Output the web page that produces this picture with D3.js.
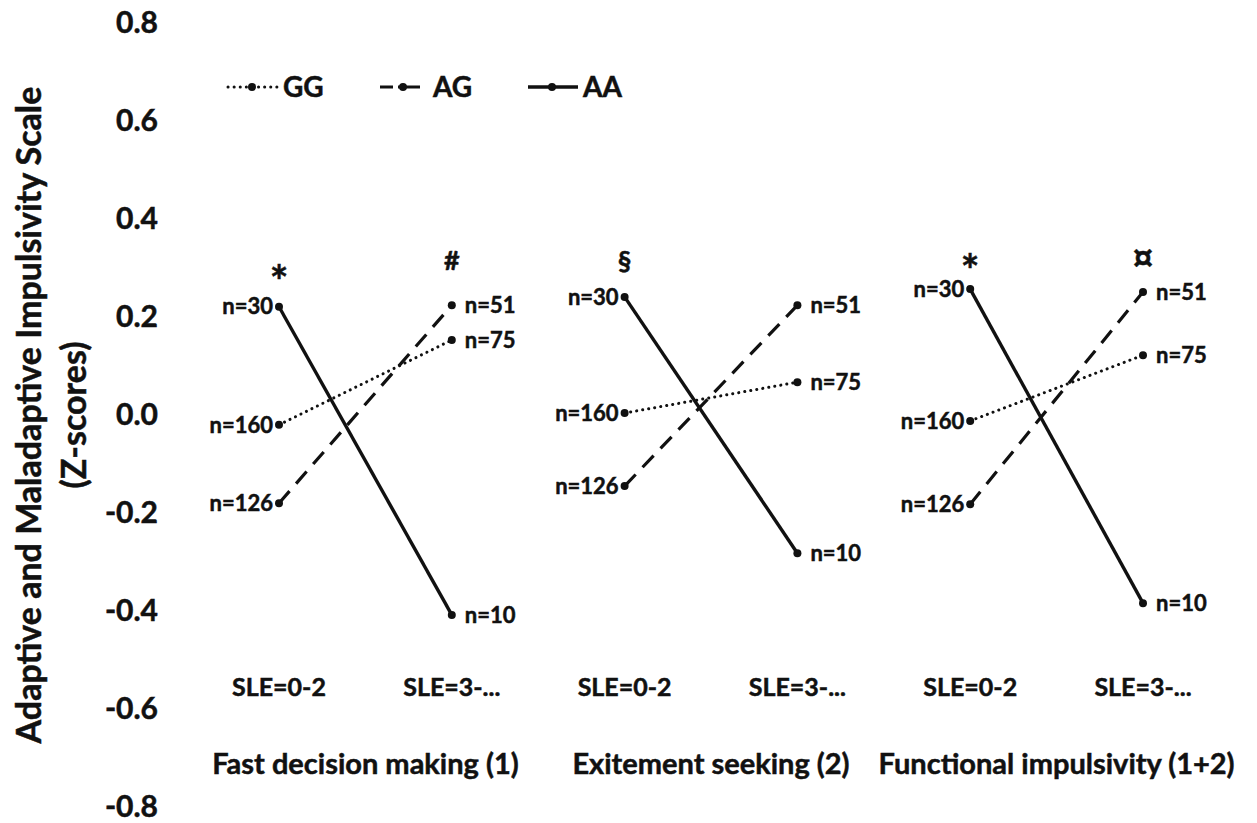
<!DOCTYPE html>
<html lang="en">
  <head>
    <meta charset="UTF-8" />
    <title>Impulsivity by SLE and genotype</title>
    <script src="https://d3js.org/d3.v7.min.js"></script>
    <style>
      body {
        margin: 0;
        background: #fff;
        font-family: Lato, "Open Sans", sans-serif;
      }
      text {
        font-weight: bold;
        fill: #111;
        stroke: #111;
        stroke-width: 0.5px;
      }
      .axis path,
      .axis line {
        display: none;
      }
    </style>
  </head>
  <body>
    <script>
      // data
      var panels = [
        "Fast decision making (1)",
        "Exitement seeking (2)",
        "Functional impulsivity (1+2)",
      ];
      var sleGroups = ["SLE=0-2", "SLE=3-..."];
      var genotypes = ["GG", "AG", "AA"];

      // [SLE=0-2, SLE=3-...] per panel
      var ggValues = [[-0.02, 0.153], [0.004, 0.067], [-0.012, 0.122]];
      var agValues = [[-0.18, 0.224], [-0.145, 0.224], [-0.182, 0.251]];
      var aaValues = [[0.221, -0.408], [0.241, -0.282], [0.257, -0.384]];

      var ggN = ["n=160", "n=75"];
      var agN = ["n=126", "n=51"];
      var aaN = ["n=30", "n=10"];

      var sigLabels = [["*", "#"], ["§", ""], ["*", "¤"]];
      var sigValues = [[0.306, 0.316], [0.316, 0], [0.327, 0.327]];

      var yTicks = [0.8, 0.6, 0.4, 0.2, 0.0, -0.2, -0.4, -0.6, -0.8];

      var series = [
        { name: "GG", values: ggValues, n: ggN, dash: "0.1 6", cap: "round", sw: 3 },
        { name: "AG", values: agValues, n: agN, dash: "16 10", cap: "butt", sw: 3.2 },
        { name: "AA", values: aaValues, n: aaN, dash: null, cap: "butt", sw: 3.4 },
      ];

      var width = 1257,
        height = 823;

      var svg = d3
        .select("body")
        .append("svg")
        .attr("width", width)
        .attr("height", height);

      var y = d3.scaleLinear().domain([-0.8, 0.8]).range([807, 23]);

      var xPanel = d3
        .scaleBand()
        .domain(panels)
        .range([192.6, 1229.4])
        .paddingInner(0);
      var xSle = d3
        .scalePoint()
        .domain(sleGroups)
        .range([0, xPanel.bandwidth()])
        .padding(0.5);

      function xPos(p, s) {
        return xPanel(panels[p]) + xSle(sleGroups[s]);
      }

      var fmt = d3.format(".1f");

      // y axis: labels only
      svg
        .append("g")
        .attr("class", "axis")
        .attr("transform", "translate(166,0)")
        .call(
          d3
            .axisLeft(y)
            .tickValues(yTicks)
            .tickSize(0)
            .tickPadding(8)
            .tickFormat(function (d) {
              return fmt(d).replace("\u2212", "-");
            })
        )
        .selectAll("text")
        .style("font-family", "Lato, sans-serif")
        .style("font-size", "30px")
        .style("font-weight", "bold")
        .attr("fill", "#111");

      var yTitle = svg
        .append("text")
        .attr("transform", "translate(29,415) rotate(-90)")
        .attr("text-anchor", "middle")
        .style("font-size", "34px");
      yTitle
        .append("tspan")
        .attr("x", 0)
        .attr("dy", "0.35em")
        .text("Adaptive and Maladaptive Impulsivity Scale");
      yTitle
        .append("tspan")
        .attr("x", 0)
        .attr("dy", "1.32em")
        .text("(Z-scores)");

      var line = d3
        .line()
        .x(function (d) {
          return d.x;
        })
        .y(function (d) {
          return y(d.v);
        });

      var sigSize = { "*": "44px", "¤": "38px" };
      var sigDy = { "*": "0.72em", "¤": "0.42em" };

      panels.forEach(function (panel, p) {
        var g = svg.append("g").attr("class", "panel");

        series.forEach(function (s) {
          var pts = s.values[p].map(function (v, i) {
            return { x: xPos(p, i), v: v, n: s.n[i], side: i };
          });

          g.append("path")
            .datum(pts)
            .attr("d", line)
            .attr("fill", "none")
            .attr("stroke", "#111")
            .attr("stroke-width", s.sw)
            .attr("stroke-linecap", s.cap)
            .attr("stroke-dasharray", s.dash);

          g.selectAll(null)
            .data(pts)
            .enter()
            .append("circle")
            .attr("cx", function (d) {
              return d.x;
            })
            .attr("cy", function (d) {
              return y(d.v);
            })
            .attr("r", 4)
            .attr("fill", "#111");

          g.selectAll(null)
            .data(pts)
            .enter()
            .append("text")
            .attr("x", function (d) {
              return d.side === 0 ? d.x - 6 : d.x + 13;
            })
            .attr("y", function (d) {
              return y(d.v);
            })
            .attr("dy", "0.35em")
            .attr("text-anchor", function (d) {
              return d.side === 0 ? "end" : "start";
            })
            .style("font-size", "22px")
            .text(function (d) {
              return d.n;
            });
        });

        // significance marks
        sigLabels[p].forEach(function (lab, i) {
          if (!lab) return;
          g.append("text")
            .attr("x", xPos(p, i))
            .attr("y", y(sigValues[p][i]))
            .attr("dy", sigDy[lab] || "0.35em")
            .attr("text-anchor", "middle")
            .style("font-size", sigSize[lab] || "27px")
            .text(lab);
        });

        // SLE labels
        sleGroups.forEach(function (sle, i) {
          g.append("text")
            .attr("x", xPos(p, i))
            .attr("y", 696)
            .attr("text-anchor", "middle")
            .style("font-size", "25px")
            .text(sle);
        });

        g.append("text")
          .attr("x", xPanel(panel) + xPanel.bandwidth() / 2)
          .attr("y", 774)
          .attr("text-anchor", "middle")
          .style("font-size", "29px")
          .text(panel);
      });

      // legend
      var legendX = [228, 380, 528];
      var legendDash = ["0.1 6", "13 5 24", null];
      var legend = svg
        .selectAll(".legend")
        .data(series)
        .enter()
        .append("g")
        .attr("class", "legend")
        .attr("transform", function (d, i) {
          return "translate(" + legendX[i] + ",87)";
        });
      legend
        .append("line")
        .attr("x1", 0)
        .attr("x2", function (d) {
          return d.name === "AG" ? 40 : 50;
        })
        .attr("stroke", "#111")
        .attr("stroke-width", function (d) {
          return d.sw;
        })
        .attr("stroke-linecap", function (d) {
          return d.cap;
        })
        .attr("stroke-dasharray", function (d, i) {
          return legendDash[i];
        });
      legend
        .append("circle")
        .attr("cx", function (d) {
          return d.name === "AG" ? 23 : 24;
        })
        .attr("r", 4)
        .attr("fill", "#111");
      legend
        .append("text")
        .attr("x", function (d) {
          return d.name === "AG" ? 53 : 55;
        })
        .attr("dy", "0.35em")
        .style("font-size", "28px")
        .text(function (d) {
          return d.name;
        });
    </script>
  </body>
</html>
